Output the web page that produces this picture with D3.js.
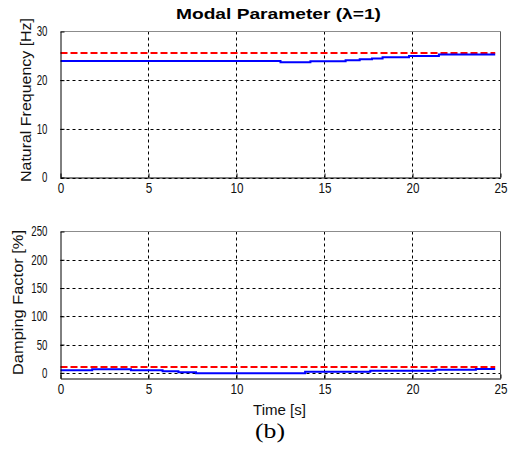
<!DOCTYPE html>
<html>
<head>
<meta charset="utf-8">
<script src="https://cdn.jsdelivr.net/npm/d3@7"></script>
<style>
  html, body { margin: 0; padding: 0; background: #fff; }
  svg { display: block; }
  .tick text { font-family: "Liberation Sans", Arial, sans-serif; font-size: 14px; fill: #111; }
</style>
</head>
<body>
<svg id="chart" width="510" height="459"></svg>
<script>
// Natural frequency estimate (step-wise), seconds / Hz
const freqTime  = [0, 12.5, 14.2, 16.2, 17.0, 17.7, 18.3, 19.8, 21.5, 24.7];
const freqValue = [23.95, 23.7, 23.9, 24.1, 24.3, 24.45, 24.72, 24.98, 25.27, 25.27];
// Reference natural frequency
const freqRefTime  = [0, 24.7];
const freqRefValue = [25.6, 25.6];

// Damping factor estimate (step-wise), seconds / %
const dampTime  = [0, 1.8, 4.0, 5.8, 6.7, 7.7, 13.9, 17.6, 21.3, 23.6, 24.7];
const dampValue = [4.5, 6.5, 4.5, 3.0, 1.2, -0.5, 1.8, 3.5, 5.3, 7.0, 7.0];
// Reference damping factor
const dampRefTime  = [0, 24.7];
const dampRefValue = [10.5, 10.5];

// Axis ticks
const timeTicks = [0, 5, 10, 15, 20, 25];
const freqTicks = [0, 10, 20, 30];
const dampTicks = [0, 50, 100, 150, 200, 250];

const svg = d3.select("#chart");
svg.append("rect").attr("width", 510).attr("height", 459).attr("fill", "#fff");

const left = 60.5, right = 500.5;
const x = d3.scaleLinear().domain([0, 25]).range([left, right]);

function panel(opts) {
  const { top, bottom, yDomain, yTicks, series, ref } = opts;
  const y = d3.scaleLinear().domain(yDomain).range([bottom, top]);
  const g = svg.append("g");

  // dotted grid
  g.append("g").selectAll("line").data(timeTicks.slice(1, -1)).join("line")
    .attr("x1", d => x(d)).attr("x2", d => x(d))
    .attr("y1", top).attr("y2", bottom)
    .attr("stroke", "#000").attr("stroke-width", 1).attr("stroke-dasharray", "3,3");
  g.append("g").selectAll("line").data(yTicks.filter(d => y(d) > top + 1)).join("line")
    .attr("x1", left).attr("x2", right)
    .attr("y1", d => Math.round(y(d)) + 0.5).attr("y2", d => Math.round(y(d)) + 0.5)
    .attr("stroke", "#000").attr("stroke-width", 1).attr("stroke-dasharray", "3,3");

  // frame: top and right in grey, left and bottom in black
  g.append("line").attr("x1", left).attr("x2", right).attr("y1", top).attr("y2", top)
    .attr("stroke", "#8c8c8c");
  g.append("line").attr("x1", right).attr("x2", right).attr("y1", top).attr("y2", bottom)
    .attr("stroke", "#5a5a5a");

  // data lines
  const line = d3.line().x(d => x(d[0])).y(d => y(d[1])).curve(d3.curveStepAfter);
  g.append("path").datum(d3.zip(ref.t, ref.v))
    .attr("d", line).attr("fill", "none")
    .attr("stroke", "#ff0000").attr("stroke-width", 2).attr("stroke-dasharray", "7,3");
  g.append("path").datum(d3.zip(series.t, series.v))
    .attr("d", line).attr("fill", "none")
    .attr("stroke", "#0000ff").attr("stroke-width", 2);

  // axes with inward ticks
  const xa = g.append("g").attr("transform", `translate(0,${bottom})`)
    .call(d3.axisBottom(x).tickValues(timeTicks).tickSizeInner(-4).tickSizeOuter(0).tickPadding(10));
  const ya = g.append("g").attr("transform", `translate(${left},0)`)
    .call(d3.axisLeft(y).tickValues(yTicks).tickSizeInner(-4).tickSizeOuter(0).tickPadding(13));
  [xa, ya].forEach(a => {
    a.select(".domain").attr("stroke", "#000").attr("stroke-width", 1);
    a.selectAll(".tick line").attr("stroke", "#000");
  });
  // narrow digit glyphs
  xa.selectAll(".tick text").attr("dy", "0.71em").attr("y", 6)
    .attr("textLength", function () { return this.textContent.length * 6.5; })
    .attr("lengthAdjust", "spacingAndGlyphs");
  ya.selectAll(".tick text")
    .attr("textLength", function () { return this.textContent.length * 5.4; })
    .attr("lengthAdjust", "spacingAndGlyphs");
  return y;
}

panel({
  top: 31.5, bottom: 177.5, yDomain: [0, 30], yTicks: freqTicks,
  series: { t: freqTime, v: freqValue }, ref: { t: freqRefTime, v: freqRefValue }
});
panel({
  top: 231.5, bottom: 378.5, yDomain: [-10, 250], yTicks: dampTicks,
  series: { t: dampTime, v: dampValue }, ref: { t: dampRefTime, v: dampRefValue }
});

// title and axis labels
svg.append("text").attr("x", 278.5).attr("y", 18.5).attr("text-anchor", "middle")
  .attr("font-family", "Liberation Sans, Arial, sans-serif").attr("font-weight", "bold")
  .attr("font-size", 15).attr("textLength", 205).attr("lengthAdjust", "spacingAndGlyphs")
  .text("Modal Parameter (λ=1)");

svg.append("text").attr("transform", "translate(30.5,100) rotate(-90)").attr("text-anchor", "middle")
  .attr("font-family", "Liberation Sans, Arial, sans-serif").attr("font-size", 14).attr("fill", "#111")
  .attr("textLength", 164).attr("lengthAdjust", "spacingAndGlyphs")
  .text("Natural Frequency [Hz]");

svg.append("text").attr("transform", "translate(22.5,302.5) rotate(-90)").attr("text-anchor", "middle")
  .attr("font-family", "Liberation Sans, Arial, sans-serif").attr("font-size", 14).attr("fill", "#111")
  .attr("textLength", 145).attr("lengthAdjust", "spacingAndGlyphs")
  .text("Damping Factor [%]");

svg.append("text").attr("x", 279.5).attr("y", 414.5).attr("text-anchor", "middle")
  .attr("font-family", "Liberation Sans, Arial, sans-serif").attr("font-size", 14).attr("fill", "#111")
  .attr("textLength", 53).attr("lengthAdjust", "spacingAndGlyphs")
  .text("Time [s]");

svg.append("text").attr("x", 270).attr("y", 437.5).attr("text-anchor", "middle")
  .attr("font-family", "Liberation Serif, Times New Roman, serif").attr("font-size", 21)
  .attr("textLength", 30).attr("lengthAdjust", "spacingAndGlyphs")
  .text("(b)");
</script>
</body>
</html>
